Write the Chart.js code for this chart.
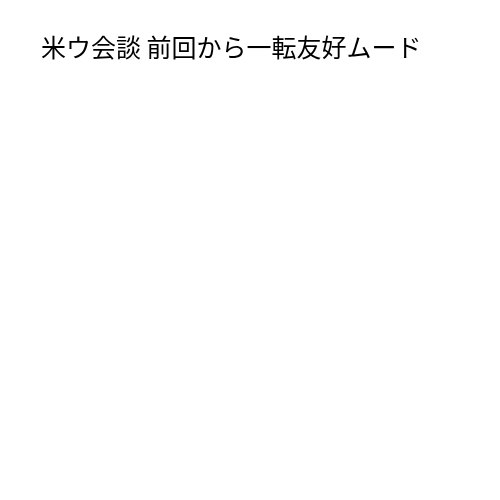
<!DOCTYPE html>
<html>
<head>
<meta charset="utf-8">
<script src="https://cdn.jsdelivr.net/npm/chart.js@4"></script>
<style>
html, body { margin: 0; padding: 0; background: #fff; }
#wrap { width: 500px; height: 500px; }
</style>
</head>
<body>
<div id="wrap"><canvas id="pieChart"></canvas></div>
<script>
// the reference shows only the title, no marks
var titleText = '米ウ会談 前回から一転友好ムード';
var categories = [];
var values = [];

var ctx = document.getElementById('pieChart').getContext('2d');
var myChart = new Chart(ctx, {
    type: 'pie',
    data: {
        labels: categories,
        datasets: [
            {
                data: values,
                borderWidth: 0
            }
        ]
    },
    options: {
        responsive: true,
        maintainAspectRatio: false,
        animation: false,
        layout: { padding: { left: 41, top: 32 } },
        plugins: {
            legend: { display: false },
            tooltip: { enabled: false },
            title: {
                display: true,
                text: titleText,
                align: 'start',
                color: '#000',
                font: { family: '"Noto Sans CJK JP"', size: 25, weight: 'normal' },
                padding: { top: 0, bottom: 10 }
            }
        }
    }
});
</script>
</body>
</html>
